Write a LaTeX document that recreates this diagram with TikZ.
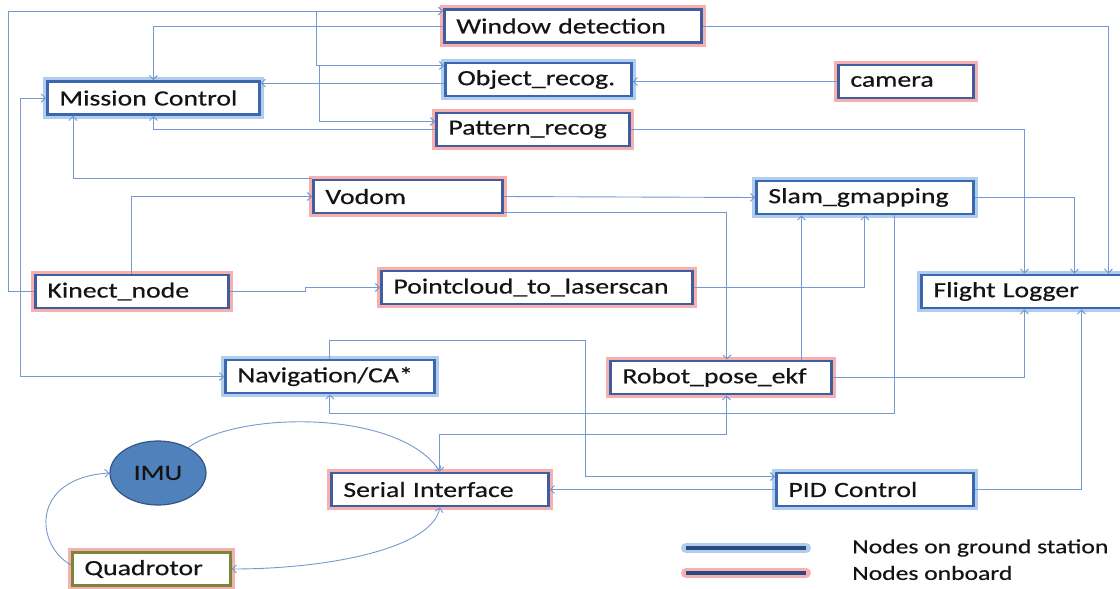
\documentclass[tikz,border=0pt]{standalone}
\usepackage{fontspec}
\setmainfont{Carlito}[FakeStretch=1.28, FakeBold=0.5]
\usepackage{tikz}
\usetikzlibrary{arrows.meta,shapes.geometric}

\definecolor{wireblue}{RGB}{118,152,208}
\definecolor{gedge}{RGB}{58,104,176}
\definecolor{gglow}{RGB}{176,205,238}
\definecolor{oedge}{RGB}{64,94,158}
\definecolor{oglow}{RGB}{246,176,176}
\definecolor{navy}{RGB}{44,72,128}
\definecolor{imufill}{RGB}{79,129,189}
\definecolor{imuedge}{RGB}{52,86,132}
\definecolor{quadedge}{RGB}{122,134,58}
\definecolor{ink}{RGB}{20,20,20}

\begin{document}
\begin{tikzpicture}[x=1pt,y=-1pt,
    every node/.style={font=\fontsize{21.7}{24}\selectfont, text=ink},
    box/.style={draw, line width=2.8pt, fill=white, inner xsep=12pt, inner ysep=0pt,
        minimum height=33pt, anchor=west, align=left},
    ground/.style={box, draw=gedge, preaction={draw=gglow, line width=8.5pt}},
    onboard/.style={box, draw=oedge, preaction={draw=oglow, line width=8.5pt}},
    imunode/.style={ellipse, draw=imuedge, fill=imufill, line width=1.2pt,
        minimum width=96pt, minimum height=64pt, inner sep=0},
    legendtext/.style={anchor=west, inner sep=0, font=\fontsize{20}{22}\selectfont},
    wire/.style={draw=wireblue, line width=0.9pt},
    gline/.style={draw=navy, line width=4pt, preaction={draw=gglow, line width=10pt, line cap=round}},
    oline/.style={draw=navy, line width=4pt, preaction={draw=oglow, line width=10pt, line cap=round}},
    >={Straight Barb[length=4pt,width=8pt]}]
    \useasboundingbox (0,0) rectangle (1120,589);
    \fill[white] (0,0) rectangle (1120,589);

    \node[onboard, text width=233pt] (win)  at (443,26)    {Window detection};
    \node[ground,  text width=162pt] (obj)  at (444,79.5)  {Object\_recog.};
    \node[onboard, text width=111pt] (cam)  at (837,81.5)  {camera};
    \node[ground,  text width=188pt] (mc)   at (46,98)     {Mission Control};
    \node[onboard, text width=169pt] (pat)  at (435,129.5) {Pattern\_recog};
    \node[onboard, text width=165pt] (vod)  at (312,196.5) {Vodom};
    \node[ground,  text width=193pt] (slam) at (755,197.5) {Slam\_gmapping};
    \node[onboard, text width=169pt] (kin)  at (34,291.5)  {Kinect\_node};
    \node[onboard, text width=287pt] (pcl)  at (380,287.5) {Pointcloud\_to\_laserscan};
    \node[ground,  text width=186pt] (fl)   at (920,291.5) {Flight Logger};
    \node[ground,  text width=185pt] (nav)  at (224,376.5) {Navigation/CA*};
    \node[onboard, text width=197pt] (rob)  at (609,377.5) {Robot\_pose\_ekf};
    \node[imunode] (imu) at (158,473) {IMU};
    \node[onboard, text width=193pt] (ser)  at (330,489.5) {Serial Interface};
    \node[ground,  text width=173pt] (pid)  at (775,489.5) {PID Control};
    \node[onboard, draw=quadedge, text width=134pt] (quad) at (71,569) {Quadrotor};

    \coordinate (kbr)  at (316,11);
    \coordinate (kbr2) at (319,66);
    \draw[wire,->] (kin.west) -| (8,11) -- ([yshift=15pt]win.west);
    \draw[wire,->] (kbr) |- ([yshift=14pt]obj.west);
    \draw[wire,->] (kbr2) |- ([yshift=8pt]pat.west);
    \draw[wire,->] (win.west) -| (mc.north);
    \draw[wire,->] (obj.west |- 0,83) -- (mc.east |- 0,83);
    \draw[wire,->] (cam.west) -- (obj.east |- cam.west);
    \draw[wire,->] (pat.west) -| (mc.south);
    \draw[wire,->] (vod.north west) -| ([xshift=27pt]mc.south west);
    \draw[wire,->] (kin.north) |- (vod.west);
    \draw[wire,<->] (mc.west) -- ++(-26,0) |- (nav.west);
    \draw[wire,->] (kin.east) -- ++(76,0) |- (pcl.west);
    \draw[wire,->] (vod.east) -- (slam.west);
    \draw[wire,->] ([yshift=1.5pt]vod.south east) -| ([xshift=6pt]rob.north);
    \draw[wire,->] (pcl.east) -| (slam.south);
    \draw[wire,->] ([xshift=80.5pt]rob.north) -- ([xshift=-63.5pt]slam.south);
    \draw[wire,->] ([xshift=30pt]slam.south) -- ++(0,198) -| (nav.south);
    \draw[wire,<->] ([xshift=5.5pt]rob.south) -- ++(0,39) -| (ser.north);
    \draw[wire,->] (nav.north) -- ++(0,-18) -- ++(255.5,0) |- ([yshift=13pt]pid.west);
    \draw[wire,->] (pid.west) -- (ser.east);
    \draw[wire,->] (pid.east) -| ([xshift=55pt]fl.south);
    \draw[wire,->] (rob.east) -| ([xshift=-2pt]fl.south);
    \draw[wire,->] (pat.east) -| ([xshift=-2pt]fl.north);
    \draw[wire,->] (slam.east) -| ([xshift=48pt]fl.north);
    \draw[wire,->] (win.east) -| ([xshift=82pt]fl.north);
    \draw[wire,->] (imu.40) .. controls (240,410) and (400,410) .. (ser.north);
    \draw[wire,<->] (quad.east) .. controls (330,569) and (432,548) .. (ser.south);
    \draw[wire,->] ([yshift=4pt]quad.west) .. controls (35,545) and (30,478) .. (imu.west);

    \node[legendtext] (lgg) at (852,548) {Nodes on ground station};
    \node[legendtext] (lgo) at (852,573) {Nodes onboard};
    \draw[gline] ([xshift=-166pt]lgg.west) -- ([xshift=-46pt]lgg.west);
    \draw[oline] ([xshift=-166pt]lgo.west) -- ([xshift=-46pt]lgo.west);
\end{tikzpicture}
\end{document}
